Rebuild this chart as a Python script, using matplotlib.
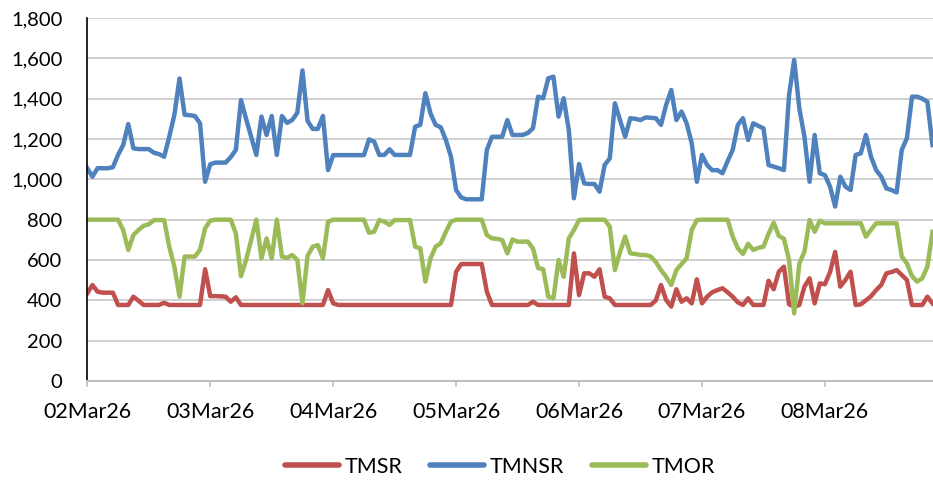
import matplotlib
matplotlib.use("Agg")
import matplotlib.pyplot as plt
import numpy as np

day_labels = ["02Mar26", "03Mar26", "04Mar26", "05Mar26", "06Mar26", "07Mar26", "08Mar26"]

tmnsr = [1055, 1013, 1055, 1055, 1055, 1060, 1121, 1170, 1274, 1154, 1150, 1150, 1150, 1132, 1125, 1112,
         1211, 1320, 1500, 1320, 1318, 1314, 1278, 988,
         1075, 1083, 1083, 1083, 1110, 1146, 1393, 1300, 1210, 1121, 1311, 1220, 1314, 1121, 1314, 1280,
         1294, 1330, 1540, 1290, 1250, 1250, 1314, 1046,
         1120, 1120, 1120, 1120, 1120, 1120, 1120, 1198, 1187, 1121, 1121, 1149, 1121, 1121, 1121, 1121,
         1261, 1270, 1427, 1327, 1270, 1258, 1195, 1112,
         947, 910, 901, 901, 901, 901, 1146, 1211, 1211, 1211, 1294, 1220, 1220, 1220, 1230, 1253,
         1410, 1402, 1501, 1509, 1311, 1402, 1245, 906,
         1076, 980, 977, 977, 939, 1071, 1104, 1377, 1294, 1211, 1303, 1300, 1294, 1307, 1305, 1303,
         1270, 1369, 1443, 1294, 1336, 1278, 1179, 988,
         1121, 1071, 1045, 1046, 1030, 1090, 1146, 1270, 1303, 1195, 1278, 1265, 1253, 1071, 1063, 1055,
         1046, 1418, 1592, 1352, 1212, 988, 1220, 1030,
         1021, 964, 865, 1013, 964, 947, 1121, 1129, 1220, 1112, 1046, 1013, 955, 947, 935, 1146,
         1203, 1410, 1410, 1400, 1385, 1170]

tmor = [800, 800, 800, 800, 800, 800, 800, 749, 650, 724, 749, 770, 777, 798, 798, 798,
        666, 567, 418, 617, 617, 617, 650, 757,
        795, 800, 800, 800, 800, 732, 520, 600, 700, 800, 608, 707, 608, 800, 617, 610,
        625, 600, 385, 620, 666, 674, 608, 790,
        800, 800, 800, 800, 800, 800, 800, 735, 740, 798, 790, 774, 798, 798, 798, 798,
        666, 658, 493, 608, 666, 683, 740, 790,
        800, 800, 800, 800, 800, 800, 724, 707, 705, 699, 633, 702, 691, 691, 691, 658,
        560, 554, 418, 410, 600, 517, 707, 749,
        798, 800, 800, 800, 800, 800, 765, 550, 640, 716, 633, 630, 625, 625, 617, 590,
        550, 517, 476, 550, 580, 608, 749, 798,
        800, 800, 800, 800, 800, 800, 716, 658, 630, 680, 650, 660, 666, 730, 785, 720,
        705, 600, 335, 583, 641, 798, 740, 795,
        782, 782, 782, 782, 782, 782, 782, 782, 716, 750, 782, 782, 782, 782, 782, 617,
        583, 520, 493, 509, 567, 740]

tmsr = [435, 476, 443, 438, 438, 438, 377, 377, 377, 418, 398, 377, 377, 377, 377, 388,
        377, 377, 377, 377, 377, 377, 377, 554,
        421, 421, 420, 418, 393, 415, 377, 377, 377, 377, 377, 377, 377, 377, 377, 377,
        377, 377, 377, 377, 377, 377, 377, 451,
        385, 377, 377, 377, 377, 377, 377, 377, 377, 377, 377, 377, 377, 377, 377, 377,
        377, 377, 377, 377, 377, 377, 377, 377,
        542, 580, 580, 580, 580, 580, 443, 377, 377, 377, 377, 377, 377, 377, 377, 393,
        377, 377, 377, 377, 377, 377, 377, 633,
        426, 534, 534, 517, 554, 418, 410, 377, 377, 377, 377, 377, 377, 377, 377, 400,
        476, 402, 369, 455, 393, 410, 385, 504,
        385, 418, 440, 451, 460, 440, 418, 390, 377, 410, 377, 377, 377, 497, 455, 542,
        567, 380, 369, 377, 468, 509, 385, 484,
        480, 540, 640, 468, 501, 542, 377, 380, 400, 420, 451, 476, 534, 540, 550, 526,
        501, 377, 377, 377, 418, 385]

plt.rcParams['font.family'] = ['Lato', 'DejaVu Sans']

fig = plt.figure(figsize=(9.33, 4.84), dpi=100)
ax = fig.add_axes([87.3 / 933, 1 - 381 / 484, 1 - 87.3 / 933, (381 - 18) / 484])

ax.plot(np.arange(len(tmsr)), tmsr, color='#C0504D', lw=3.2, label='TMSR', solid_joinstyle='round')
ax.plot(np.arange(len(tmnsr)), tmnsr, color='#4F81BD', lw=3.2, label='TMNSR', solid_joinstyle='round')
ax.plot(np.arange(len(tmor)), tmor, color='#9BBB59', lw=3.2, label='TMOR', solid_joinstyle='round')

ax.set_xlim(0, 165.1)
ax.set_ylim(0, 1800)
ax.set_yticks(np.arange(0, 1801, 200))
ax.set_yticklabels([f"{v:,}" for v in range(0, 1801, 200)], fontsize=14.5)
ax.set_xticks(np.arange(len(day_labels)) * 24)
ax.set_xticklabels(day_labels, fontsize=15.5)

ax.grid(axis='y', color='#C8C8C8', lw=1.2)
ax.set_axisbelow(True)
for s in ['top', 'right']:
    ax.spines[s].set_visible(False)
ax.spines['left'].set_color('black')
ax.spines['left'].set_linewidth(1.2)
ax.spines['bottom'].set_color('#BFBFBF')
ax.spines['bottom'].set_linewidth(1.5)
ax.tick_params(axis='y', length=0, pad=18)
ax.tick_params(axis='x', length=4, color='#BFBFBF', width=1.2, pad=11)

leg = fig.legend(loc='center', bbox_to_anchor=(500 / 933, 1 - 467 / 484), ncol=3, frameon=False,
                 fontsize=15.5, handlelength=2.5, columnspacing=1.3, handletextpad=0.25)
for line in leg.get_lines():
    line.set_linewidth(4)
    line.set_solid_capstyle('round')

fig.savefig('out.png', dpi=100)
